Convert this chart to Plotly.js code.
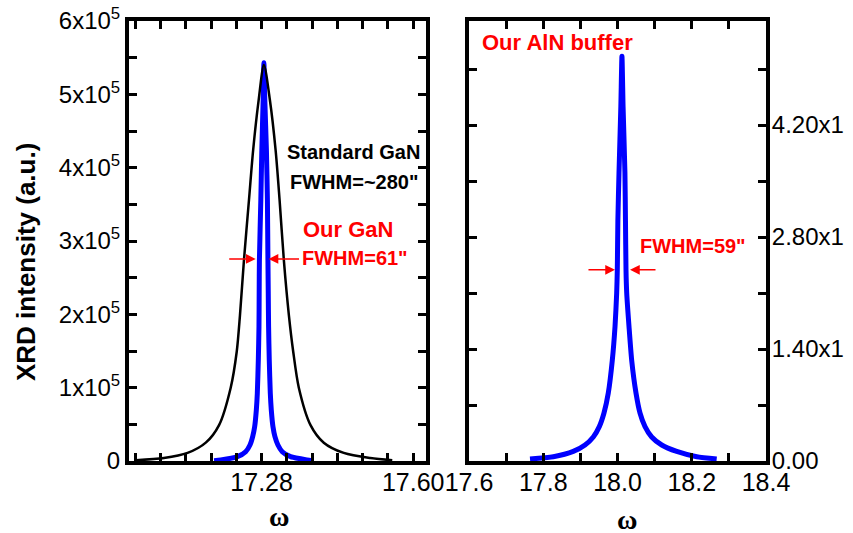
<!DOCTYPE html>
<html>
<head>
<meta charset="utf-8">
<script src="https://cdn.plot.ly/plotly-3.0.1.min.js"></script>
<style>html,body{margin:0;padding:0;background:#fff;}#chart{width:853px;height:533px;}</style>
</head>
<body>
<div id="chart"></div>
<script>
// Left panel: GaN rocking curves (omega, XRD intensity)
const standardGaNX = [17.0147,17.0737,17.1236,17.1621,17.1901,17.2147,17.2274,17.2343,17.2427,17.2533,17.2621,17.2737,17.2848,17.2975,17.3095,17.3179,17.3269,17.3375,17.3467,17.3585,17.3832,17.4112,17.4533,17.5095,17.5558];
const standardGaNY = [1000,4000,11000,25000,49000,100000,149000,199000,274000,356000,424000,492000,540000,492000,424000,356000,274000,199000,149000,100000,49000,25000,11000,4000,1000];
const ourGaNX = [17.1796,17.1937,17.2288,17.2463,17.2554,17.2611,17.2653,17.2688,17.2709,17.2730,17.2744,17.2748,17.2753,17.2783,17.2804,17.2832,17.2848,17.2867,17.2901,17.2922,17.2933,17.2940,17.2947,17.2961,17.2983,17.3004,17.3039,17.3081,17.3144,17.3235,17.3411,17.3761,17.3867];
const ourGaNY = [500,1400,5900,12700,21800,33200,46800,69600,92400,137800,183200,228800,274200,356000,424000,492000,543000,492000,424000,356000,274200,228800,183200,137800,92400,69600,46800,33200,21800,12700,5900,1400,500];
// Right panel: AlN buffer rocking curve
const alnX = [17.7643,17.8271,17.8809,17.9125,17.9348,17.9510,17.9636,17.9752,17.9860,17.9933,17.9978,17.9995,18.0010,18.0040,18.0090,18.0120,18.0150,18.0200,18.0215,18.0229,18.0248,18.0310,18.0382,18.0498,18.0606,18.0741,18.0921,18.1191,18.1595,18.2133,18.2672];
const alnY = [2500,5400,12000,20000,30000,43000,60000,85000,126000,168000,210000,239000,300000,360000,443000,506000,443000,360000,300000,239000,210000,168000,126000,85000,60000,43000,30000,20000,12000,5400,2500];

// Tick labels (labelled ticks; other tick positions stay unlabelled)
const leftXTickLabels = {'17.28': '17.28', '17.60': '17.60'};
const leftYTickLabels = {'0': '0', '100000': '1x10<sup>5</sup>', '200000': '2x10<sup>5</sup>', '300000': '3x10<sup>5</sup>',
                         '400000': '4x10<sup>5</sup>', '500000': '5x10<sup>5</sup>', '600000': '6x10<sup>5</sup>'};
const rightXTickLabels = {'17.6': '17.6', '17.8': '17.8', '18.0': '18.0', '18.2': '18.2', '18.4': '18.4'};
const rightYTickLabels = {'0': '0.00', '140000': '1.40x1', '280000': '2.80x1', '420000': '4.20x1'};

// Alias maps: every tick string that is not a labelled tick maps to ''
function aliasMap(labels, tick0, dtick, lo, hi, fmt) {
  const m = {};
  for (let v = tick0; v <= hi + dtick * 1e-6; v += dtick) {
    if (v < lo - dtick * 1e-6) continue;
    const s = fmt(v);
    m[s] = labels.hasOwnProperty(s) ? labels[s] : '';
  }
  for (let v = tick0 - dtick; v >= lo - dtick * 1e-6; v -= dtick) {
    const s = fmt(v);
    m[s] = labels.hasOwnProperty(s) ? labels[s] : '';
  }
  return m;
}

const W = 853, H = 533;
const px = x => x / W;
const py = y => 1 - y / H;
const FONT = 'Liberation Sans, Arial, sans-serif';

const traces = [
  {x: ourGaNX, y: ourGaNY, xaxis: 'x', yaxis: 'y', mode: 'lines',
   line: {color: '#0000ff', width: 5, shape: 'spline', smoothing: 0.6}, hoverinfo: 'skip'},
  {x: standardGaNX, y: standardGaNY, xaxis: 'x', yaxis: 'y', mode: 'lines',
   line: {color: '#000000', width: 2.5, shape: 'spline', smoothing: 0.8}, hoverinfo: 'skip'},
  {x: alnX, y: alnY, xaxis: 'x2', yaxis: 'y2', mode: 'lines',
   line: {color: '#0000ff', width: 5, shape: 'spline', smoothing: 0.6}, hoverinfo: 'skip'},
  // empty traces that only register the frame axes (top / opposite side ticks)
  {x: [], y: [], xaxis: 'x3', yaxis: 'y', mode: 'lines', hoverinfo: 'skip'},
  {x: [], y: [], xaxis: 'x', yaxis: 'y3', mode: 'lines', hoverinfo: 'skip'},
  {x: [], y: [], xaxis: 'x4', yaxis: 'y2', mode: 'lines', hoverinfo: 'skip'},
  {x: [], y: [], xaxis: 'x2', yaxis: 'y4', mode: 'lines', hoverinfo: 'skip'}
];

const axCommon = {
  showline: true, linewidth: 4, linecolor: '#000', mirror: false,
  ticks: 'inside', ticklen: 8, tickwidth: 3, tickcolor: '#000',
  showgrid: false, zeroline: false, tickmode: 'linear', autorange: false,
  tickfont: {family: FONT, size: 24, color: '#000'}
};

const lxStep = 0.32 / 6;
const leftX = {range: [17.0, 17.627], tick0: 17.28, dtick: lxStep, tickformat: '.2f'};
const leftY = {range: [0, 600000], tick0: 0, dtick: 50000, tickformat: 'd'};
const rightX = {range: [17.6, 18.4], tick0: 17.6, dtick: 0.1, tickformat: '.1f'};
const rightY = {range: [0, 550000], tick0: 0, dtick: 70000, tickformat: 'd'};

// frame edges (hedge so the box is closed on every side)
const edge = (xref, yref, x0, y0, x1, y1) =>
  ({type: 'line', xref: xref, yref: yref, x0: x0, y0: y0, x1: x1, y1: y1, line: {color: '#000', width: 4}, layer: 'above'});
const dx = 2 / 297, dy = 2 / 440;

const layout = {
  width: W, height: H,
  margin: {l: 0, r: 0, t: 0, b: 0},
  paper_bgcolor: '#fff', plot_bgcolor: '#fff',
  showlegend: false,
  xaxis: Object.assign({}, axCommon, leftX, {
    domain: [px(129), px(426)], anchor: 'y',
    labelalias: aliasMap(leftXTickLabels, 17.28, lxStep, 17.0, 17.627, v => v.toFixed(2)),
    tickfont: {family: FONT, size: 25, color: '#000'}, ticklabelstandoff: -4
  }),
  yaxis: Object.assign({}, axCommon, leftY, {
    domain: [py(461), py(21)], anchor: 'x',
    labelalias: aliasMap(leftYTickLabels, 0, 50000, 0, 600000, v => String(Math.round(v)))
  }),
  xaxis3: Object.assign({}, axCommon, leftX, {
    overlaying: 'x', anchor: 'y', side: 'top', showticklabels: false
  }),
  yaxis3: Object.assign({}, axCommon, leftY, {
    overlaying: 'y', anchor: 'x', side: 'right', showticklabels: false
  }),
  xaxis2: Object.assign({}, axCommon, rightX, {
    domain: [px(469), px(766)], anchor: 'y2',
    labelalias: aliasMap(rightXTickLabels, 17.6, 0.1, 17.6, 18.4, v => v.toFixed(1)),
    tickfont: {family: FONT, size: 25, color: '#000'}, ticklabelstandoff: -4
  }),
  yaxis2: Object.assign({}, axCommon, rightY, {
    domain: [py(461), py(21)], anchor: 'x2', side: 'right',
    labelalias: aliasMap(rightYTickLabels, 0, 70000, 0, 550000, v => String(Math.round(v))),
    ticklabelstandoff: -3
  }),
  xaxis4: Object.assign({}, axCommon, rightX, {
    overlaying: 'x2', anchor: 'y2', side: 'top', showticklabels: false
  }),
  yaxis4: Object.assign({}, axCommon, rightY, {
    overlaying: 'y2', anchor: 'x2', side: 'left', showticklabels: false
  }),
  shapes: [
    edge('x domain', 'y domain', -2 * dx, 1 + dy, 1 + 2 * dx, 1 + dy),
    edge('x domain', 'y domain', 1 + dx, -2 * dy, 1 + dx, 1 + 2 * dy),
    edge('x2 domain', 'y2 domain', -2 * dx, 1 + dy, 1 + 2 * dx, 1 + dy),
    edge('x2 domain', 'y2 domain', -dx, -2 * dy, -dx, 1 + 2 * dy)
  ],
  annotations: [
    {xref: 'paper', yref: 'paper', x: px(26), y: py(262), text: '<b>XRD intensity (a.u.)</b>', textangle: -90,
     showarrow: false, xanchor: 'center', yanchor: 'middle', font: {family: FONT, size: 26, color: '#000'}},
    {xref: 'paper', yref: 'paper', x: px(279), y: py(516), text: '<b>ω</b>', showarrow: false,
     xanchor: 'center', yanchor: 'middle', font: {family: 'Liberation Serif, Times New Roman, serif', size: 28, color: '#000'}},
    {xref: 'paper', yref: 'paper', x: px(627), y: py(519), text: '<b>ω</b>', showarrow: false,
     xanchor: 'center', yanchor: 'middle', font: {family: 'Liberation Serif, Times New Roman, serif', size: 28, color: '#000'}},
    {xref: 'paper', yref: 'paper', x: px(285), y: py(152), text: '<b>Standard GaN</b>', showarrow: false,
     xanchor: 'left', yanchor: 'middle', font: {family: FONT, size: 20, color: '#000'}},
    {xref: 'paper', yref: 'paper', x: px(288), y: py(182), text: '<b>FWHM=~280"</b>', showarrow: false,
     xanchor: 'left', yanchor: 'middle', font: {family: FONT, size: 20, color: '#000'}},
    {xref: 'paper', yref: 'paper', x: px(301), y: py(229), text: '<b>Our GaN</b>', showarrow: false,
     xanchor: 'left', yanchor: 'middle', font: {family: FONT, size: 22, color: '#ff0000'}},
    {xref: 'paper', yref: 'paper', x: px(300), y: py(258), text: '<b>FWHM=61"</b>', showarrow: false,
     xanchor: 'left', yanchor: 'middle', font: {family: FONT, size: 20, color: '#ff0000'}},
    {xref: 'paper', yref: 'paper', x: px(480), y: py(42), text: '<b>Our AlN buffer</b>', showarrow: false,
     xanchor: 'left', yanchor: 'middle', font: {family: FONT, size: 22, color: '#ff0000'}},
    {xref: 'paper', yref: 'paper', x: px(638), y: py(246), text: '<b>FWHM=59"</b>', showarrow: false,
     xanchor: 'left', yanchor: 'middle', font: {family: FONT, size: 20, color: '#ff0000'}},
    {xref: 'x', yref: 'y', x: 17.2674, y: 275600, axref: 'x', ayref: 'y', ax: 17.2084, ay: 275600, text: '',
     showarrow: true, arrowhead: 2, arrowsize: 1.3, arrowwidth: 1.5, arrowcolor: '#ff0000', standoff: 0},
    {xref: 'x', yref: 'y', x: 17.2947, y: 275600, axref: 'x', ayref: 'y', ax: 17.3621, ay: 275600, text: '',
     showarrow: true, arrowhead: 2, arrowsize: 1.3, arrowwidth: 1.5, arrowcolor: '#ff0000', standoff: 0},
    {xref: 'x2', yref: 'y2', x: 17.9933, y: 239000, axref: 'x2', ayref: 'y2', ax: 17.9178, ay: 239000, text: '',
     showarrow: true, arrowhead: 2, arrowsize: 1.3, arrowwidth: 1.5, arrowcolor: '#ff0000', standoff: 0},
    {xref: 'x2', yref: 'y2', x: 18.0337, y: 239000, axref: 'x2', ayref: 'y2', ax: 18.1064, ay: 239000, text: '',
     showarrow: true, arrowhead: 2, arrowsize: 1.3, arrowwidth: 1.5, arrowcolor: '#ff0000', standoff: 0}
  ]
};

Plotly.newPlot('chart', traces, layout, {displayModeBar: false});
</script>
</body>
</html>
